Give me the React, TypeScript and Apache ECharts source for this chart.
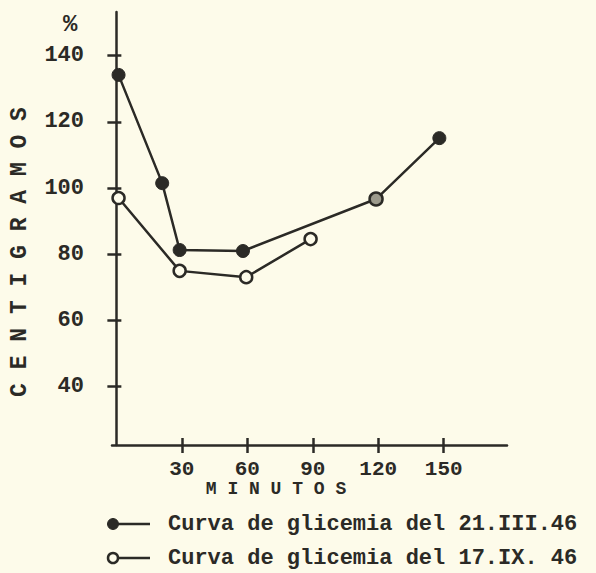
import React, { useEffect, useRef } from "react";
import * as echarts from "echarts";

const seriesNames = ["Curva de glicemia del 21.III.46", "Curva de glicemia del 17.IX. 46"];
const curve1: [number, number][] = [
  [1, 134.2],
  [21, 101.5],
  [29, 81.3],
  [58, 81],
  [119, 96.7],
  [148, 115.1],
];
const curve2: [number, number][] = [
  [1, 97],
  [29, 75],
  [59.5, 73.1],
  [89, 84.6],
];
const xTicks = [30, 60, 90, 120, 150];
const yTicks = [40, 60, 80, 100, 120, 140];
const yAxisTitle = "C E N T I G R A M O S";
const xAxisTitle = "M I N U T O S";
const unitLabel = "%";

const INK = "#2b2a26";
const PAPER = "#fdfbea";
const FONT = "'Liberation Mono', 'DejaVu Sans Mono', monospace";

export default function App() {
  const ref = useRef<HTMLDivElement>(null);
  useEffect(() => {
    if (!ref.current) return;
    const chart = echarts.init(ref.current, null, { renderer: "svg" });
    const xMin = -2, xMax = 179, yMin = 22.4, yMax = 153.2;
    const label = { fontFamily: FONT, fontWeight: "bold" as const, color: INK };
    chart.setOption({
      animation: false,
      backgroundColor: PAPER,
      grid: { left: 112, right: 89, top: 12, bottom: 128 },
      xAxis: [
        {
          type: "value",
          min: xMin,
          max: xMax,
          axisLine: { show: true, lineStyle: { color: INK, width: 2.5 } },
          axisTick: { show: true, length: 8, customValues: xTicks, lineStyle: { color: INK, width: 2.5 } },
          axisLabel: { ...label, fontSize: 21, margin: 14, customValues: xTicks },
          splitLine: { show: false },
        },
        {
          type: "value",
          position: "bottom",
          min: xMin,
          max: xMax,
          axisLine: { show: false },
          axisTick: { show: true, inside: true, length: 7, customValues: xTicks, lineStyle: { color: INK, width: 2.5 } },
          axisLabel: { show: false },
          splitLine: { show: false },
        },
      ],
      yAxis: [
        {
          type: "value",
          min: yMin,
          max: yMax,
          axisLine: { show: true, lineStyle: { color: INK, width: 2.5 } },
          axisTick: { show: true, length: 9, customValues: yTicks, lineStyle: { color: INK, width: 2.5 } },
          axisLabel: { ...label, fontSize: 22, margin: 28, customValues: yTicks },
          splitLine: { show: false },
        },
        {
          type: "value",
          position: "left",
          min: yMin,
          max: yMax,
          axisLine: { show: false },
          axisTick: { show: true, inside: true, length: 5, customValues: yTicks, lineStyle: { color: INK, width: 2.5 } },
          axisLabel: { show: false },
          splitLine: { show: false },
        },
      ],
      series: [
        {
          name: seriesNames[0],
          type: "line",
          data: curve1.map((p, i) =>
            i === 4
              ? { value: p, itemStyle: { color: "#9c9a8c", borderColor: INK, borderWidth: 2.5 } }
              : { value: p }
          ),
          symbol: "circle",
          symbolSize: 13,
          lineStyle: { color: INK, width: 2.5 },
          itemStyle: { color: INK, borderColor: INK, borderWidth: 1 },
        },
        {
          name: seriesNames[1],
          type: "line",
          data: curve2,
          symbol: "circle",
          symbolSize: 12,
          lineStyle: { color: INK, width: 2.5 },
          itemStyle: { color: PAPER, borderColor: INK, borderWidth: 2.5 },
        },
      ],
      graphic: [
        {
          type: "text",
          left: 63,
          top: 12,
          style: { text: unitLabel, font: `bold 24px ${FONT}`, fill: INK },
        },
        {
          type: "text",
          x: 20,
          y: 252,
          rotation: Math.PI / 2,
          style: { text: yAxisTitle, font: `bold 23px ${FONT}`, fill: INK, align: "center", verticalAlign: "middle" },
        },
        {
          type: "text",
          x: 276,
          y: 489,
          style: { text: xAxisTitle, font: `bold 18px ${FONT}`, fill: INK, align: "center", verticalAlign: "middle" },
        },
        { type: "line", shape: { x1: 113, y1: 524, x2: 150, y2: 524 }, style: { stroke: INK, lineWidth: 2.5 } },
        { type: "circle", shape: { cx: 113, cy: 524, r: 5.5 }, style: { fill: INK, stroke: INK, lineWidth: 1 } },
        {
          type: "text",
          x: 168,
          y: 524,
          style: { text: seriesNames[0], font: `bold 22px ${FONT}`, fill: INK, verticalAlign: "middle" },
        },
        { type: "line", shape: { x1: 118, y1: 558, x2: 150, y2: 558 }, style: { stroke: INK, lineWidth: 2.5 } },
        { type: "circle", shape: { cx: 113, cy: 558, r: 5 }, style: { fill: PAPER, stroke: INK, lineWidth: 2.5 } },
        {
          type: "text",
          x: 168,
          y: 558,
          style: { text: seriesNames[1], font: `bold 22px ${FONT}`, fill: INK, verticalAlign: "middle" },
        },
      ],
    });
    return () => chart.dispose();
  }, []);
  return (
    <div
      ref={ref}
      style={{ position: "fixed", left: 0, top: 0, width: 596, height: 573, background: PAPER }}
    />
  );
}
